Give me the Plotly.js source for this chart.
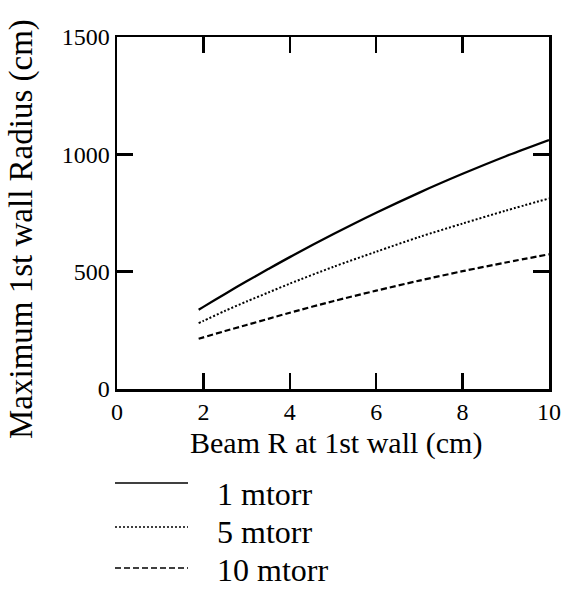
<!DOCTYPE html>
<html>
<head>
<meta charset="utf-8">
<script src="https://cdn.plot.ly/plotly-3.0.1.min.js"></script>
<style>html,body{margin:0;padding:0;background:#fff;}#chart{width:566px;height:589px;}</style>
</head>
<body>
<div id="chart"></div>
<script>
// Data
const beamR = [1.89, 2, 2.5, 3, 3.5, 4, 5, 6, 7, 8, 9, 10];
const p1mtorr  = [338, 350, 405, 459, 511, 562, 659, 751, 837, 917, 992, 1061];
const p5mtorr  = [281, 290, 333, 373, 411, 449, 520, 585, 648, 705, 760, 812];
const p10mtorr = [214, 220, 247, 273, 299, 325, 374, 419, 462, 502, 539, 574];
const seriesNames = ['1 mtorr', '5 mtorr', '10 mtorr'];
const xTicks = [0, 2, 4, 6, 8, 10];
const yTicks = [0, 500, 1000, 1500];

const FONT = 'Liberation Serif, Times New Roman, serif';
const dashes = ['solid', '2px,2px', '6px,3px'];
const widths = [2.3, 2, 2.2];
const seriesY = [p1mtorr, p5mtorr, p10mtorr];

const traces = seriesY.map((ys, i) => ({
  x: beamR, y: ys, name: seriesNames[i], type: 'scatter', mode: 'lines',
  line: {color: '#000', width: widths[i], dash: dashes[i], shape: 'spline', smoothing: 0.8},
  showlegend: false
}));

// plot area in pixels
const L = 117, R = 17, T = 37, B = 200, W = 566, H = 589;
const pw = W - L - R, ph = H - T - B;
const px2x = p => (p - L) / pw;
const py2y = p => (H - B - p) / ph;

const shapes = [];
const annotations = [];
const legY = [483, 527, 568];
const legTextY = [494, 532, 570];
seriesNames.forEach((n, i) => {
  shapes.push({type: 'line', xref: 'paper', yref: 'paper',
    x0: px2x(115), x1: px2x(188), y0: py2y(legY[i]), y1: py2y(legY[i]),
    line: {color: '#000', width: widths[i] - 0.6, dash: dashes[i]}});
  annotations.push({xref: 'paper', yref: 'paper', x: px2x(216), y: py2y(legTextY[i]),
    xanchor: 'left', yanchor: 'middle', showarrow: false, text: n, borderpad: 0,
    font: {family: FONT, size: 32, color: '#000'}});
});
annotations.push({xref: 'paper', yref: 'paper', x: px2x(336), y: py2y(443),
  xanchor: 'center', yanchor: 'middle', showarrow: false, text: 'Beam R at 1st wall (cm)',
  font: {family: FONT, size: 30, color: '#000'}});
annotations.push({xref: 'paper', yref: 'paper', x: px2x(21), y: py2y(229),
  xanchor: 'center', yanchor: 'middle', showarrow: false, textangle: -90,
  text: 'Maximum 1st wall Radius (cm)',
  font: {family: FONT, size: 33, color: '#000'}});

const axisCommon = {
  showline: true, linecolor: '#000', linewidth: 2.5, mirror: 'ticks',
  ticks: 'inside', ticklen: 16, tickwidth: 2.5, tickcolor: '#000',
  showgrid: false, zeroline: false,
  tickfont: {family: FONT, size: 24, color: '#000'}
};

const layout = {
  width: W, height: H,
  margin: {l: L, r: R, t: T, b: B},
  paper_bgcolor: '#fff', plot_bgcolor: '#fff',
  xaxis: Object.assign({}, axisCommon, {range: [0, 10], tickvals: xTicks, ticktext: xTicks.map(String)}),
  yaxis: Object.assign({}, axisCommon, {range: [0, 1500], tickvals: yTicks, ticktext: yTicks.map(String)}),
  shapes: shapes, annotations: annotations, showlegend: false
};

Plotly.newPlot('chart', traces, layout, {displayModeBar: false, staticPlot: true});
</script>
</body>
</html>
